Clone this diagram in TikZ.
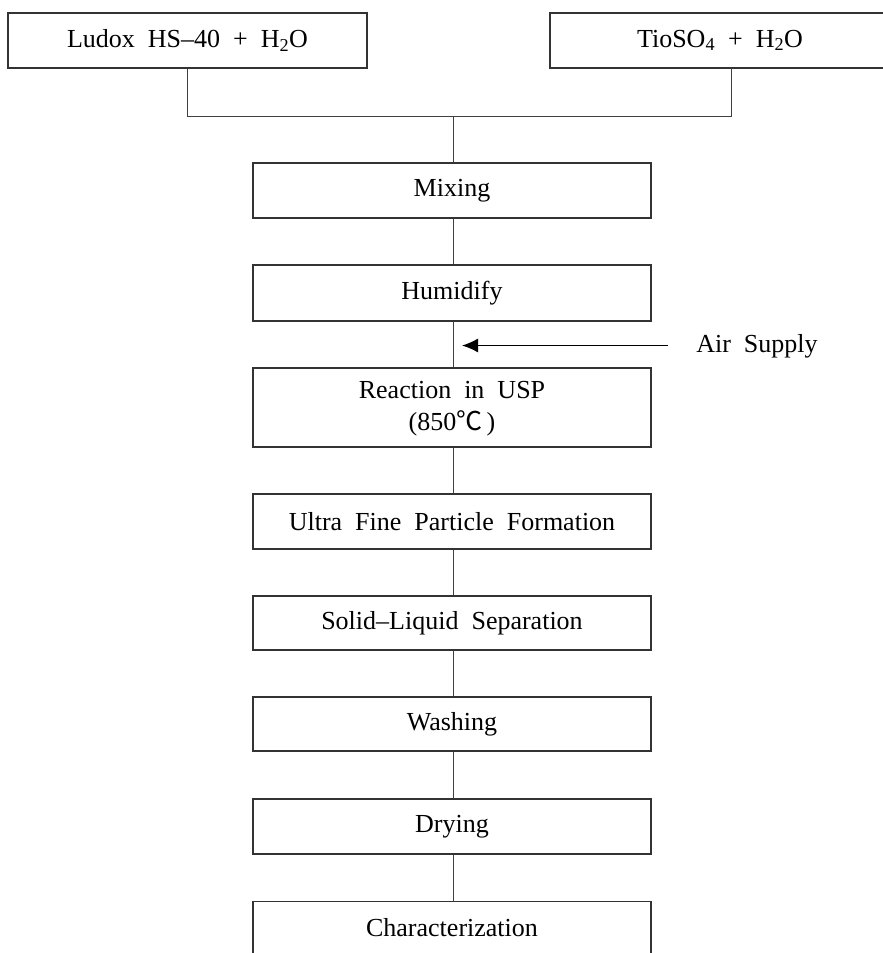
\documentclass[tikz,border=0pt]{standalone}
\usepackage{fontspec}
\setmainfont{Liberation Serif}[WordSpace=2]
\newfontfamily\cjkfont{Noto Sans CJK KR}
\usetikzlibrary{arrows.meta}
\tikzset{
  stepbox/.style={draw=black!80, line width=1.1pt, rectangle, inner sep=0pt,
    font=\fontsize{26}{33}\selectfont, text=black, align=center},
  midbox/.style={stepbox, minimum width=398pt, minimum height=55pt},
  link/.style={draw=black!75, line width=1pt},
  airarrow/.style={draw=black, line width=1.2pt, -{Latex[length=16pt,width=14pt]}},
  plain/.style={font=\fontsize{26}{33}\selectfont, inner sep=0pt}
}
\begin{document}
\begin{tikzpicture}[x=1pt,y=-1pt]
\useasboundingbox (0,0) rectangle (883,953);
\node[stepbox, minimum width=359pt, minimum height=55pt] (L) at (187.5,40.5) {Ludox HS–40 + H\textsubscript{2}O};
\node[stepbox, minimum width=340pt, minimum height=55pt] (R) at (720,40.5) {TioSO\textsubscript{4} + H\textsubscript{2}O};
\node[midbox] (mix) at (452,190.5) {Mixing};
\node[midbox, minimum height=56pt] (hum) at (452,293) {Humidify};
\node[midbox, minimum height=79pt] (react) at (452,407.5) {\raisebox{-4pt}{\begin{tabular}{@{}c@{}}Reaction in USP\\[-1pt](850{\cjkfont ℃}\,)\end{tabular}}};
\node[midbox] (ultra) at (452,521.5) {Ultra Fine Particle Formation};
\node[midbox, minimum height=54pt] (solid) at (452,623) {Solid–Liquid Separation};
\node[midbox, minimum height=54pt] (wash) at (452,724) {Washing};
\node[midbox] (dry) at (452,826.5) {Drying};
\node[midbox, minimum height=60pt, anchor=north] (char) at (452,901) {\raisebox{9pt}{Characterization}};
\node[plain] (air) at (757,346) {Air Supply};
\coordinate (j) at (453,116);
\coordinate (rdrop) at (731,68);
\coordinate (tail) at (668,345.5);
\coordinate (tip) at (462,345.5);
\draw[link] (L.south) -- (L.south |- j) -- (rdrop |- j) -- (rdrop);
\draw[link] (j) -- (mix.north -| j);
\draw[link] (mix.south -| j) -- (hum.north -| j);
\draw[link] (hum.south -| j) -- (react.north -| j);
\draw[link] (react.south -| j) -- (ultra.north -| j);
\draw[link] (ultra.south -| j) -- (solid.north -| j);
\draw[link] (solid.south -| j) -- (wash.north -| j);
\draw[link] (wash.south -| j) -- (dry.north -| j);
\draw[link] (dry.south -| j) -- (char.north -| j);
\draw[airarrow] (tail) -- (tip);
\end{tikzpicture}
\end{document}
